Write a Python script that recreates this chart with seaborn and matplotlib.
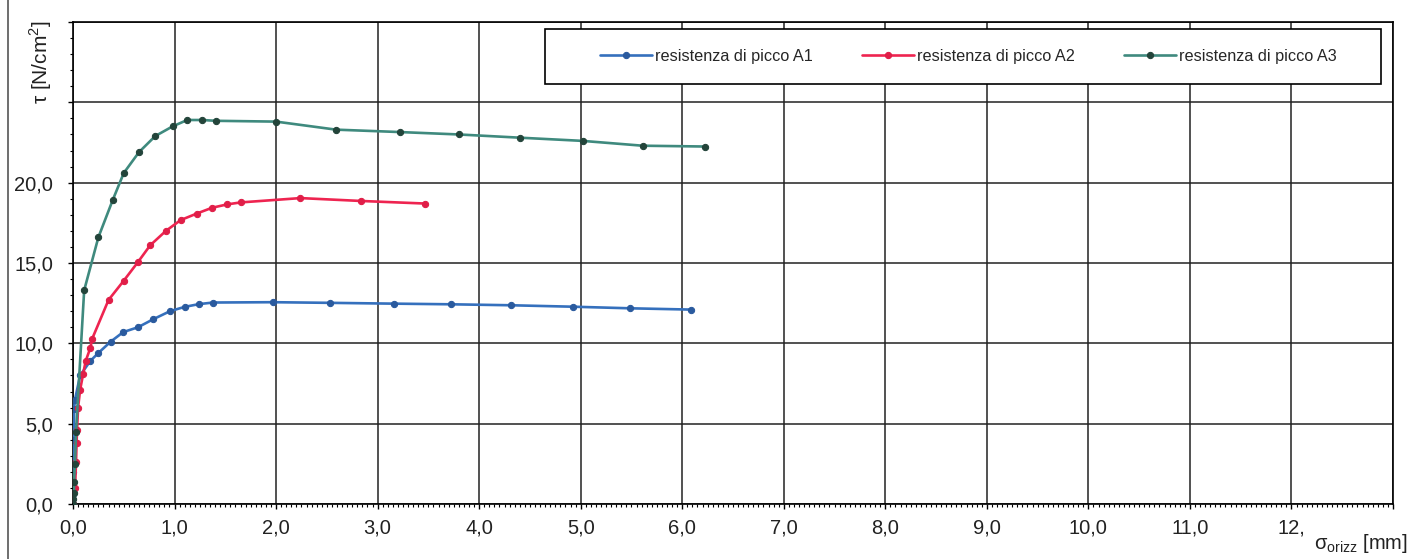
import pandas as pd
import matplotlib
matplotlib.use('Agg')
import matplotlib.pyplot as plt
from matplotlib.lines import Line2D
from matplotlib.patches import Rectangle
from matplotlib.ticker import MultipleLocator, FixedLocator
import seaborn as sns

# dati (spostamento orizzontale [mm], tau [N/cm2])
x_a1 = [0.0, 0.0, 0.0, 0.01, 0.01, 0.02, 0.07, 0.17, 0.25, 0.37, 0.495, 0.64, 0.79,
        0.955, 1.10, 1.24, 1.38, 1.97, 2.53, 3.16, 3.72, 4.31, 4.92, 5.49, 6.09]
y_a1 = [0.0, 0.6, 2.0, 4.0, 5.9, 6.5, 8.0, 8.9, 9.4, 10.1, 10.7, 11.0, 11.5,
        12.0, 12.27, 12.44, 12.54, 12.56, 12.52, 12.47, 12.43, 12.37, 12.28, 12.18, 12.1]

x_a2 = [0.0, 0.02, 0.03, 0.035, 0.04, 0.05, 0.07, 0.10, 0.125, 0.17, 0.19, 0.35, 0.50,
        0.64, 0.76, 0.915, 1.06, 1.22, 1.37, 1.52, 1.65, 2.24, 2.84, 3.47]
y_a2 = [0.0, 1.0, 2.6, 3.8, 4.6, 6.0, 7.1, 8.1, 8.9, 9.7, 10.3, 12.7, 13.9,
        15.06, 16.1, 17.0, 17.67, 18.08, 18.44, 18.65, 18.77, 19.04, 18.86, 18.7]

x_a3 = [0.0, 0.0, 0.01, 0.01, 0.02, 0.03, 0.11, 0.25, 0.39, 0.50, 0.65, 0.81, 0.98,
        1.125, 1.27, 1.41, 2.0, 2.59, 3.22, 3.80, 4.40, 5.02, 5.61, 6.22]
y_a3 = [0.0, 0.3, 0.7, 1.4, 2.5, 4.5, 13.3, 16.6, 18.9, 20.6, 21.9, 22.9, 23.5,
        23.9, 23.9, 23.85, 23.8, 23.3, 23.15, 23.0, 22.8, 22.6, 22.3, 22.25]

labels = ['resistenza di picco A1', 'resistenza di picco A2', 'resistenza di picco A3']
x_ticks = [0, 1, 2, 3, 4, 5, 6, 7, 8, 9, 10, 11, 12, 13]
x_ticklabels = ['0,0', '1,0', '2,0', '3,0', '4,0', '5,0', '6,0', '7,0', '8,0',
                '9,0', '10,0', '11,0', '12,', '']
y_ticks = [0, 5, 10, 15, 20, 25, 30]
y_ticklabels = ['0,0', '5,0', '10,0', '15,0', '20,0', '', '']

df = pd.concat([
    pd.DataFrame({'x': x_a1, 'y': y_a1, 'serie': labels[0]}),
    pd.DataFrame({'x': x_a2, 'y': y_a2, 'serie': labels[1]}),
    pd.DataFrame({'x': x_a3, 'y': y_a3, 'serie': labels[2]}),
])

sns.set_theme(style='ticks')
plt.rcParams['font.family'] = ['Liberation Sans', 'DejaVu Sans']
plt.rcParams['mathtext.fontset'] = 'custom'
plt.rcParams['mathtext.rm'] = 'Liberation Sans'

line_col = {labels[0]: '#3570bd', labels[1]: '#ee2450', labels[2]: '#3f8a7e'}
mark_col = {labels[0]: '#2a5a9e', labels[1]: '#e01e48', labels[2]: '#23443a'}

fig = plt.figure(figsize=(14.19, 5.59), dpi=100)
ax = fig.add_axes([73 / 1419, 55 / 559, 1320 / 1419, 482 / 559])

for s in labels:
    sns.lineplot(data=df[df['serie'] == s], x='x', y='y', sort=False, estimator=None,
                 color=line_col[s], lw=1.9, marker='o', markersize=4.5,
                 markerfacecolor=mark_col[s], markeredgecolor=mark_col[s],
                 label=s, ax=ax, zorder=3)

ax.set_xlim(0, 13)
ax.set_ylim(0, 30)
ax.xaxis.set_major_locator(FixedLocator(x_ticks))
ax.yaxis.set_major_locator(FixedLocator(y_ticks))
ax.set_xticklabels(x_ticklabels)
ax.set_yticklabels(y_ticklabels)
ax.xaxis.set_minor_locator(MultipleLocator(0.05))
ax.yaxis.set_minor_locator(MultipleLocator(1))
ax.tick_params(which='major', direction='out', length=3.6, width=1, color='black',
               labelsize=14.5, labelcolor='#222222')
ax.tick_params(axis='y', which='major', pad=10.8)
ax.tick_params(axis='x', which='major', pad=6.5)
ax.tick_params(which='minor', direction='out', length=2.5, width=0.8, color='black')
ax.grid(True, which='major', color='#222222', lw=1.1)
ax.set_axisbelow(True)
for sp in ax.spines.values():
    sp.set_color('black')
    sp.set_linewidth(1.2)
ax.set_xlabel('')
ax.set_ylabel('')

# riquadro legenda
ax.add_patch(Rectangle(((545 - 73) / 1320, (504 - 84) / 482), 836 / 1320, 55 / 482,
                       transform=ax.transAxes, facecolor='white', edgecolor='black',
                       lw=1.2, zorder=4.5))
handles, _ = ax.get_legend_handles_labels()
leg = ax.legend(handles, labels, loc='center left',
                bbox_to_anchor=((592 - 73) / 1320, (504 - 56.5) / 482),
                ncol=3, frameon=False, fontsize=11.7, handlelength=3.2,
                handletextpad=0.2, columnspacing=3.0, borderpad=0, numpoints=1)
leg.set_zorder(5)

fig.text(41 / 1419, 1 - 62 / 559, r'τ [N/cm$^{2}$]', rotation=90, ha='center',
         va='center', fontsize=15, color='#222222')
fig.text(1408 / 1419, 1 - 549 / 559, r'$\mathrm{σ}_{\mathrm{orizz}}$ [mm]',
         ha='right', va='baseline', fontsize=14.5, color='#222222')

fig.add_artist(Line2D([8 / 1419, 8 / 1419], [0, 1], color='#555555', lw=1.2))

fig.savefig('out.png', dpi=100)
